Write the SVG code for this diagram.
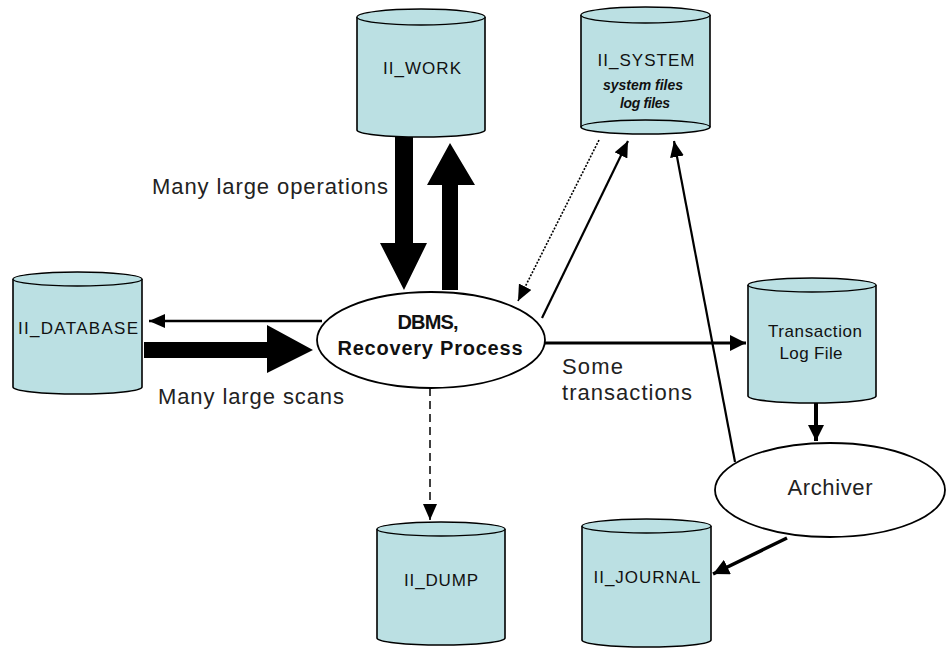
<svg xmlns="http://www.w3.org/2000/svg" width="949" height="652" viewBox="0 0 949 652">
<style>
.cyl{fill:#bbe0e3;stroke:#000;stroke-width:1.6}
.cap{fill:#bbe0e3;stroke:#000;stroke-width:1.3}
.ell{fill:#fff;stroke:#000;stroke-width:1.8}
.lbl{font-family:"Liberation Sans",Arial,sans-serif;font-size:17px;fill:#111;text-anchor:middle}
.small{font-size:14px;font-style:italic;font-weight:bold}
.bold{font-size:20px;font-weight:bold}
.note{font-family:"Liberation Sans",Arial,sans-serif;font-size:22px;fill:#222}
.conn{fill:none;stroke:#000}
</style>
<defs>
<marker id="ah" markerUnits="userSpaceOnUse" markerWidth="17" markerHeight="16" refX="16" refY="8" orient="auto"><path d="M0,0 L16,8 L0,16 z" fill="#000"/></marker>
<marker id="ahs" markerUnits="userSpaceOnUse" markerWidth="17" markerHeight="14" refX="16" refY="7" orient="auto"><path d="M0,0 L16,7 L0,14 z" fill="#000"/></marker>
</defs>
<rect width="949" height="652" fill="#fff"/>

<g id="connectors">
  <polygon points="144,342 267,342 267,325 313,350 267,373 267,358 144,358" fill="#000"/>
  <line class="conn" x1="322" y1="321" x2="149" y2="321" stroke-width="2.5" marker-end="url(#ahs)"/>
  <polygon points="395,137 413,137 413,243 427,243 404,290 380,243 395,243" fill="#000"/>
  <polygon points="442,290 458,290 458,185 475,185 450,143 427,185 442,185" fill="#000"/>
  <line class="conn" x1="599" y1="140" x2="518" y2="301" stroke-width="1.6" stroke-dasharray="2,1.5" marker-end="url(#ahs)"/>
  <line class="conn" x1="542" y1="318" x2="628" y2="141" stroke-width="2.2" marker-end="url(#ahs)"/>
  <line class="conn" x1="735" y1="462" x2="674" y2="141" stroke-width="2.2" marker-end="url(#ahs)"/>
  <line class="conn" x1="545" y1="343" x2="746" y2="343" stroke-width="3" marker-end="url(#ah)"/>
  <line class="conn" x1="816" y1="403" x2="816" y2="441" stroke-width="4" marker-end="url(#ah)"/>
  <line class="conn" x1="787" y1="538" x2="713" y2="574" stroke-width="3.5" marker-end="url(#ah)"/>
  <line class="conn" x1="430" y1="388" x2="430" y2="520" stroke-width="1.5" stroke-dasharray="8,5" marker-end="url(#ahs)"/>
</g>

<g id="labels">
  <text class="note" x="152" y="194" textLength="236">Many large operations</text>
  <text class="note" x="158" y="404" textLength="186">Many large scans</text>
  <text class="note" x="562" y="374" textLength="61">Some</text>
  <text class="note" x="562" y="400" textLength="130">transactions</text>
</g>

<g id="ii_database">
  <path class="cyl" d="M13,279 V387 A64.5,7 0 0 0 142,387 V279"/>
  <ellipse class="cap" cx="77.5" cy="279" rx="64.5" ry="7"/>
  <text class="lbl" x="78" y="334" textLength="120">II_DATABASE</text>
</g>

<g id="ii_work">
  <path class="cyl" d="M357,17 V130 A64,7 0 0 0 485,130 V17"/>
  <ellipse class="cap" cx="421" cy="17" rx="64" ry="8"/>
  <text class="lbl" x="422" y="74" textLength="78">II_WORK</text>
</g>

<g id="ii_system">
  <path class="cyl" d="M581,15 V127 A64.5,7 0 0 0 710,127 V15"/>
  <ellipse class="cap" cx="645.5" cy="15" rx="64.5" ry="8"/>
  <path class="conn" d="M581,127 A64.5,7 0 0 1 710,127" stroke-width="1.3"/>
  <text class="lbl" x="646" y="66" textLength="97">II_SYSTEM</text>
  <text class="lbl small" x="643" y="90" textLength="80">system files</text>
  <text class="lbl small" x="645" y="108" textLength="50">log files</text>
</g>

<g id="transaction_log">
  <path class="cyl" d="M748,285 V396 A64,7 0 0 0 876,396 V285"/>
  <ellipse class="cap" cx="812" cy="285" rx="64" ry="7"/>
  <text class="lbl" x="815" y="337" textLength="94">Transaction</text>
  <text class="lbl" x="811" y="359" textLength="63">Log File</text>
</g>

<g id="ii_dump">
  <path class="cyl" d="M377,529 V638 A64,7 0 0 0 505,638 V529"/>
  <ellipse class="cap" cx="441" cy="529" rx="64" ry="7"/>
  <text class="lbl" x="441" y="586" textLength="74">II_DUMP</text>
</g>

<g id="ii_journal">
  <path class="cyl" d="M582,526 V640 A64.5,7 0 0 0 711,640 V526"/>
  <ellipse class="cap" cx="646.5" cy="526" rx="64.5" ry="7"/>
  <text class="lbl" x="647" y="583" textLength="107">II_JOURNAL</text>
</g>

<g id="dbms">
  <ellipse class="ell" cx="431" cy="340" rx="114" ry="48"/>
  <text class="lbl bold" x="428" y="329" textLength="61">DBMS,</text>
  <text class="lbl bold" x="430" y="355" textLength="185">Recovery Process</text>
</g>

<g id="archiver">
  <ellipse class="ell" cx="830" cy="490" rx="115" ry="47"/>
  <text class="note" x="830" y="495" text-anchor="middle" textLength="85">Archiver</text>
</g>
</svg>
